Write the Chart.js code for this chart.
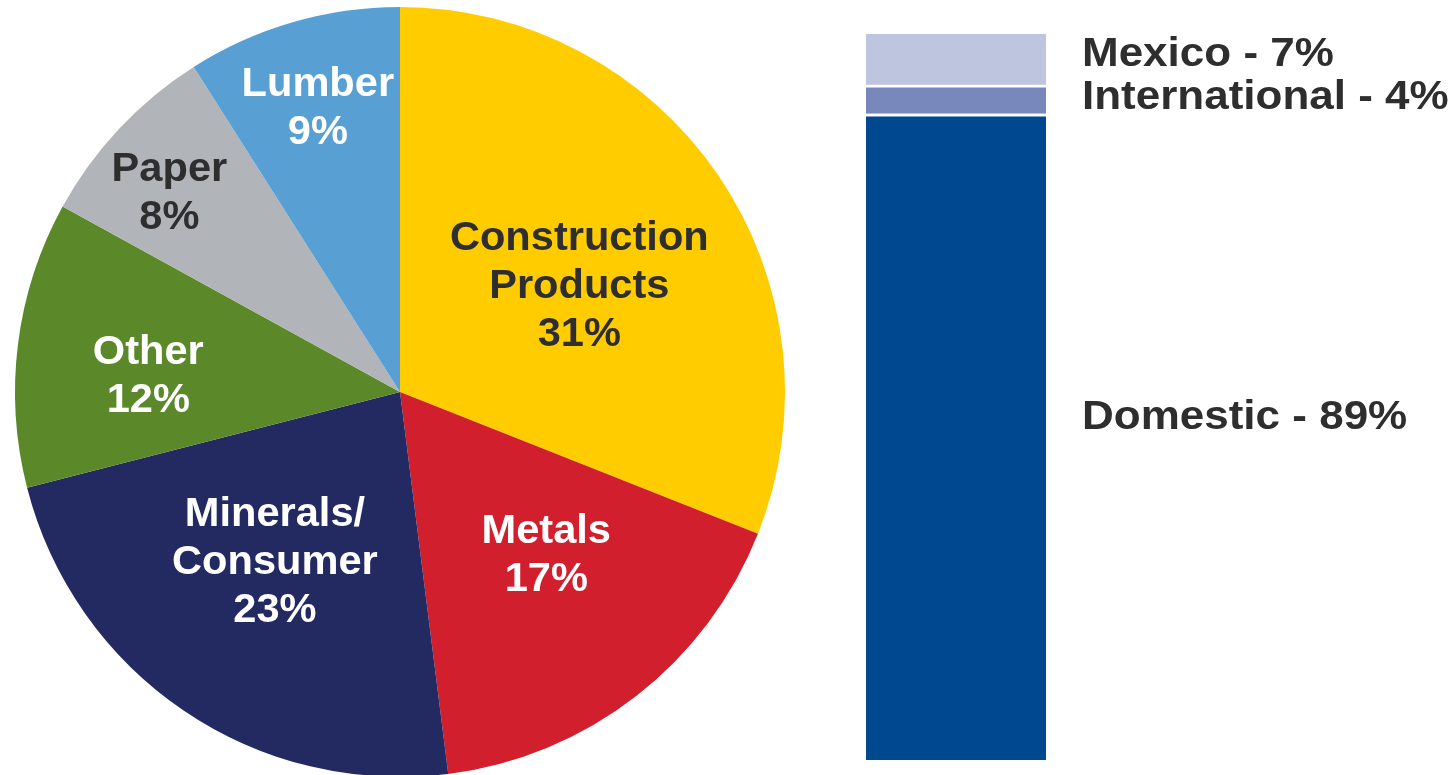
<!DOCTYPE html>
<html>
<head>
<meta charset="utf-8">
<script src="https://cdn.jsdelivr.net/npm/chart.js@4.4.1/dist/chart.umd.min.js"></script>
<style>
  html, body { margin: 0; padding: 0; background: #ffffff; overflow: hidden; }
  #wrap { position: relative; width: 1455px; height: 775px; }
  #pieBox { position: absolute; left: 0; top: 0; width: 800px; height: 784px; }
  #barBox { position: absolute; left: 866px; top: 34px; width: 589px; height: 726px; }
</style>
</head>
<body>
<div id="wrap">
  <div id="pieBox"><canvas id="chartSegments"></canvas></div>
  <div id="barBox"><canvas id="chartRegion"></canvas></div>
</div>
<script>
// Segment mix (pie)
const segmentLabels = [['Construction', 'Products'], ['Metals'], ['Minerals/', 'Consumer'], ['Other'], ['Paper'], ['Lumber']];
const segmentValues = [31, 17, 23, 12, 8, 9];
const segmentColors = ['#ffcc00', '#d11f2e', '#232a61', '#5b8929', '#b1b4b9', '#58a0d4'];
const segmentTextColors = ['#2e2e2e', '#ffffff', '#ffffff', '#ffffff', '#2e2e2e', '#ffffff'];

// Geographic mix (stacked bar)
const regionLabels = ['Domestic', 'International', 'Mexico'];
const regionValues = [89, 4, 7];
const regionColors = ['#004990', '#7888bd', '#bdc5df'];

const FONT = '"Liberation Sans", Arial, sans-serif';

// label placement per slice: fraction of radius, and angle nudge in degrees
const labelRadius = [0.54, 0.57, 0.55, 0.655, 0.79, 0.765];
const labelNudge = [3.8, -4, 2, -3.8, -2.5, 0];

const pieLabels = {
    id: 'pieLabels',
    afterDatasetsDraw(chart) {
        const ctx = chart.ctx;
        const arcs = chart.getDatasetMeta(0).data;
        ctx.save();
        ctx.font = 'bold 40px ' + FONT;
        ctx.textAlign = 'center';
        ctx.textBaseline = 'middle';
        arcs.forEach((arc, i) => {
            const mid = (arc.startAngle + arc.endAngle) / 2 + labelNudge[i] * Math.PI / 180;
            const r = arc.outerRadius * labelRadius[i];
            const cx = arc.x + Math.cos(mid) * r;
            const cy = arc.y + Math.sin(mid) * r;
            const lines = segmentLabels[i].concat([segmentValues[i] + '%']);
            const lh = 48;
            const top = cy - (lines.length - 1) * lh / 2;
            ctx.fillStyle = segmentTextColors[i];
            lines.forEach((t, k) => {
                ctx.save();
                ctx.translate(cx, top + k * lh);
                ctx.scale(1.04, 1);
                ctx.fillText(t, 0, 0);
                ctx.restore();
            });
        });
        ctx.restore();
    }
};

new Chart(document.getElementById('chartSegments'), {
    type: 'pie',
    data: {
        labels: segmentLabels.map(l => l.join(' ')),
        datasets: [{
            data: segmentValues,
            backgroundColor: segmentColors,
            borderWidth: 0
        }]
    },
    options: {
        responsive: true,
        maintainAspectRatio: false,
        animation: false,
        layout: { padding: 7 },
        plugins: { legend: { display: false }, tooltip: { enabled: false } }
    },
    plugins: [pieLabels]
});

// label offsets next to the bar (px, relative to segment centre)
const regionLabelDy = [-19, -1, -4];

const barLabels = {
    id: 'barLabels',
    afterDatasetsDraw(chart) {
        const ctx = chart.ctx;
        ctx.save();
        ctx.font = 'bold 40px ' + FONT;
        ctx.textAlign = 'left';
        ctx.textBaseline = 'middle';
        ctx.fillStyle = '#2e2e2e';
        chart.data.datasets.forEach((ds, i) => {
            const bar = chart.getDatasetMeta(i).data[0];
            const y = (bar.y + bar.base) / 2 + regionLabelDy[i];
            ctx.save();
            ctx.translate(chart.chartArea.right + 36, y);
            ctx.scale(1.1, 1);
            ctx.fillText(ds.label + ' - ' + regionValues[i] + '%', 0, 0);
            ctx.restore();
        });
        ctx.restore();
    }
};

new Chart(document.getElementById('chartRegion'), {
    type: 'bar',
    data: {
        labels: [''],
        datasets: regionLabels.map((name, i) => ({
            label: name,
            data: [regionValues[i]],
            backgroundColor: regionColors[i],
            borderColor: '#ffffff',
            borderWidth: i < 2 ? { top: 3, bottom: 0, left: 0, right: 0 } : 0,
            borderSkipped: false,
            categoryPercentage: 1,
            barPercentage: 1
        }))
    },
    options: {
        responsive: true,
        maintainAspectRatio: false,
        animation: false,
        layout: { padding: { left: 0, top: 0, bottom: 0, right: 409 } },
        scales: {
            x: { stacked: true, display: false },
            y: { stacked: true, display: false, min: 0, max: 100 }
        },
        plugins: { legend: { display: false }, tooltip: { enabled: false } }
    },
    plugins: [barLabels]
});
</script>
</body>
</html>
